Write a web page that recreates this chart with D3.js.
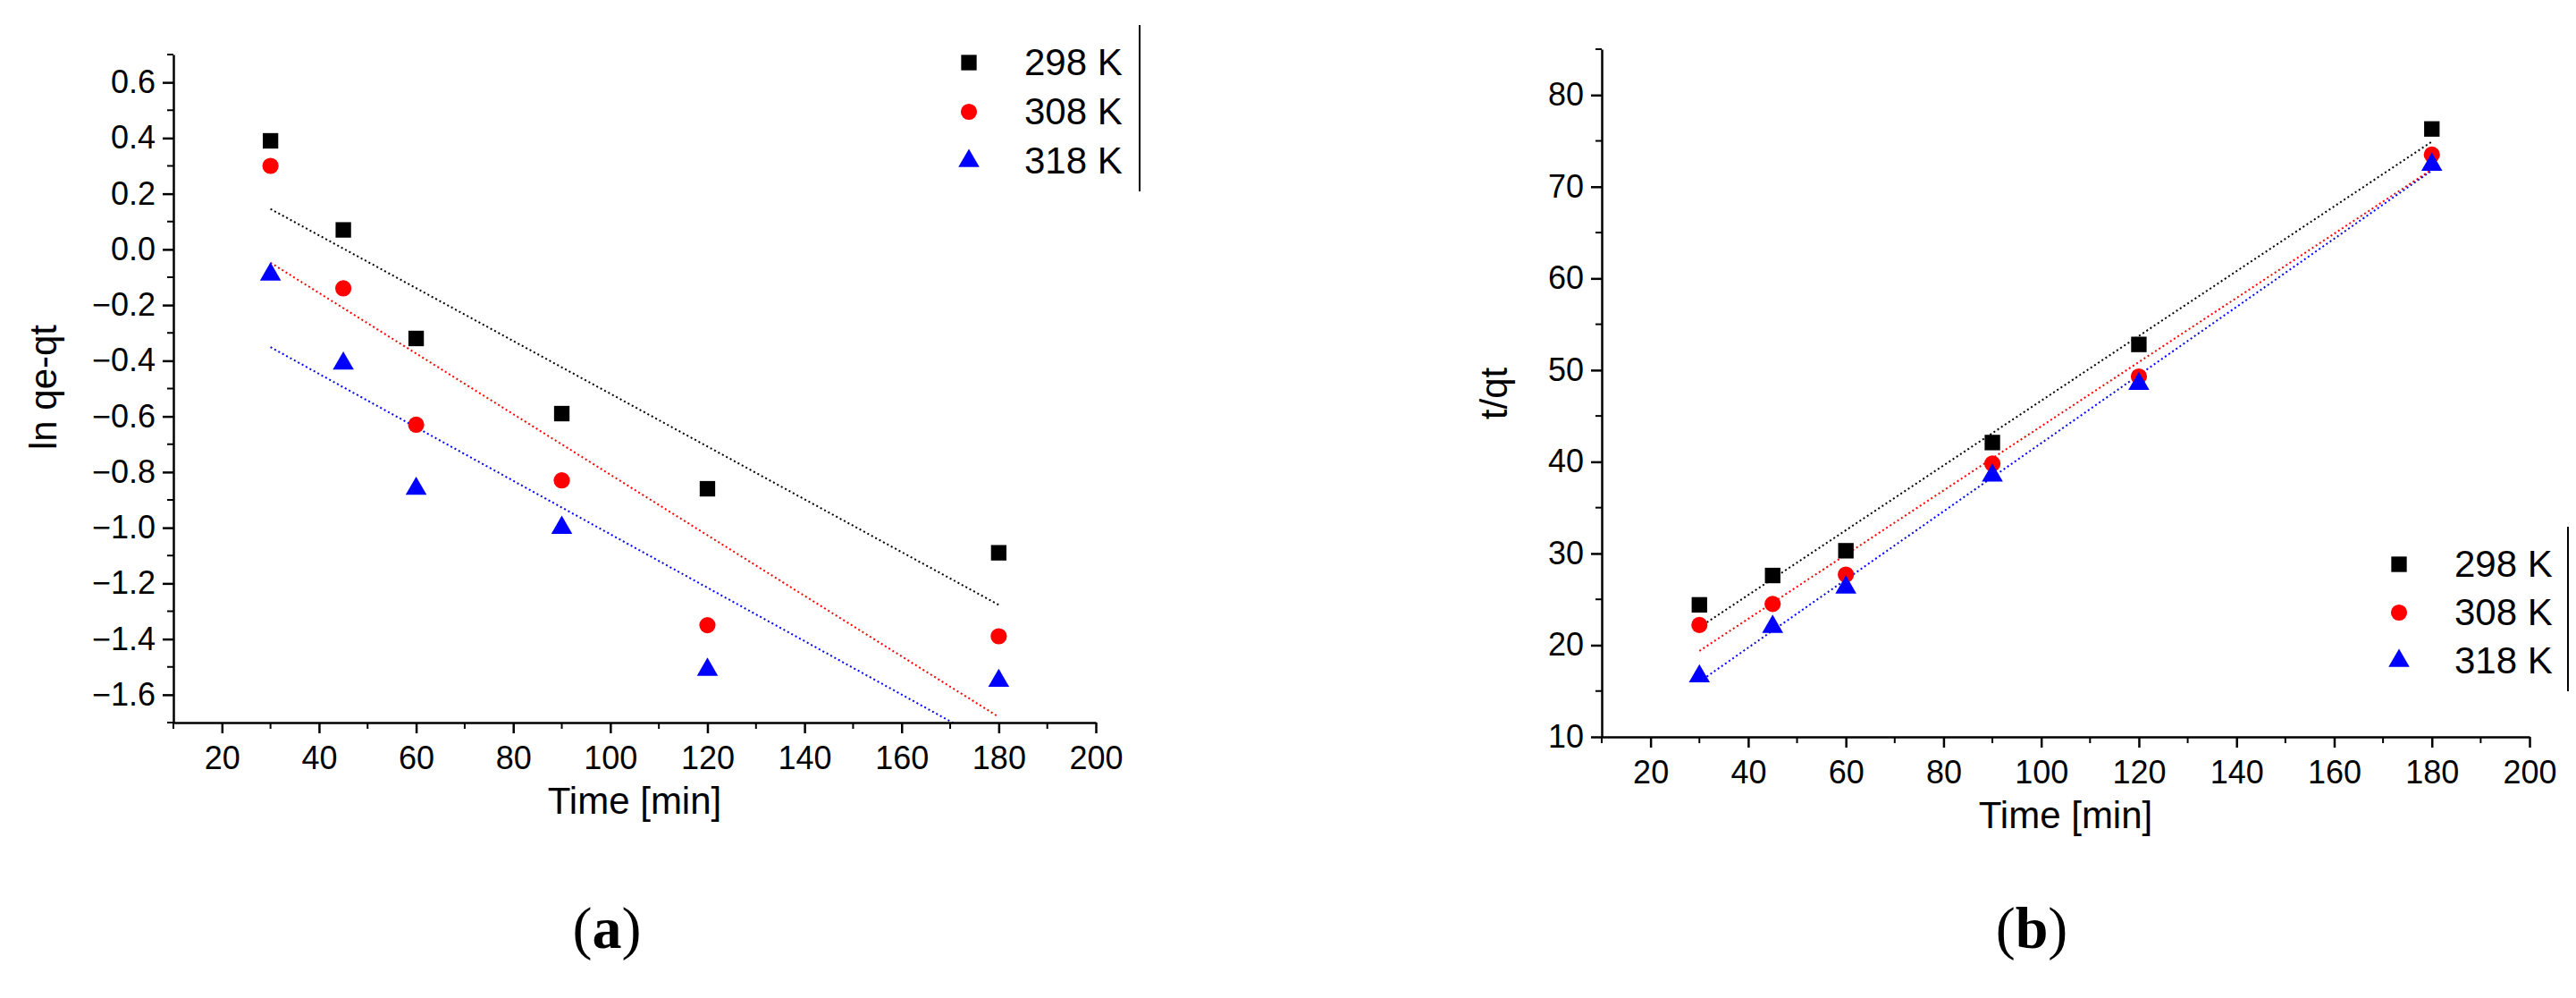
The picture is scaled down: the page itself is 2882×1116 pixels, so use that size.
<!DOCTYPE html><html><head><meta charset="utf-8">
<script src="https://cdn.jsdelivr.net/npm/d3@7"></script>
<style>body{margin:0;background:#fff}svg{display:block}</style></head><body>
<svg id="c" width="2882" height="1116"></svg>
<script>
const times=[30,45,60,90,120,180];
const seriesNames=["298 K","308 K","318 K"];
const colors=["#000000","#ff0000","#0000ff"];
const lnA298=[0.39,0.07,-0.32,-0.59,-0.86,-1.09];
const lnA308=[0.30,-0.14,-0.63,-0.83,-1.35,-1.39];
const lnA318=[-0.09,-0.41,-0.86,-1.00,-1.51,-1.55];
const tq298=[24.4,27.6,30.3,42.1,52.8,76.3];
const tq308=[22.2,24.5,27.7,39.8,49.3,73.5];
const tq318=[16.6,22.0,26.3,38.5,48.5,72.4];
const xTicks=[20,40,60,80,100,120,140,160,180,200];
const yTicksA=[0.6,0.4,0.2,0.0,-0.2,-0.4,-0.6,-0.8,-1.0,-1.2,-1.4,-1.6];
const yTicksB=[10,20,30,40,50,60,70,80];

const svg=d3.select("#c");
const F="'Liberation Sans',Arial,sans-serif";
function fit(xs,ys){const n=xs.length,mx=d3.mean(xs),my=d3.mean(ys);
 let sxy=0,sxx=0;xs.forEach((x,i)=>{sxy+=(x-mx)*(ys[i]-my);sxx+=(x-mx)**2});
 const b=sxy/sxx;return x=>my+b*(x-mx);}
function panel(o){
 const g=svg.append("g");
 const x=d3.scaleLinear().domain([10,200]).range([o.x0,o.x1]);
 const y=d3.scaleLinear().domain(o.yd).range([o.y1,o.y0]);
 const id="clip"+o.name;
 svg.append("clipPath").attr("id",id).append("rect").attr("x",o.x0).attr("y",o.y0).attr("width",o.x1-o.x0).attr("height",o.y1-o.y0);
 // fit lines
 o.data.forEach((ys,i)=>{const f=fit(times,ys);
  g.append("line").attr("clip-path",`url(#${id})`).attr("x1",x(30)).attr("y1",y(f(30))).attr("x2",x(180)).attr("y2",y(f(180)))
   .attr("stroke",colors[i]).attr("stroke-width",2).attr("stroke-dasharray","2,3");});
 // markers
 const sym=[d3.symbolSquare,d3.symbolCircle,d3.symbolTriangle];
 const sz=[300,260,240];
 o.data.forEach((ys,i)=>{g.selectAll(null).data(ys).join("path")
   .attr("d",d3.symbol().type(sym[i]).size(sz[i]))
   .attr("transform",(d,j)=>`translate(${x(times[j])},${y(d)})`).attr("fill",colors[i]);});
 // axes
 const xa=g.append("g").attr("transform",`translate(0,${o.y1})`)
  .call(d3.axisBottom(x).tickValues(xTicks).tickSize(12).tickSizeOuter(0).tickPadding(14));
 xa.append("g").selectAll("line").data(d3.range(10,201,10).filter(v=>v%20)).join("line")
  .attr("x1",d=>x(d)).attr("x2",d=>x(d)).attr("y1",0).attr("y2",7).attr("stroke","#000").attr("stroke-width",2);
 const ya=g.append("g").attr("transform",`translate(${o.x0},0)`)
  .call(d3.axisLeft(y).tickValues(o.yt).tickSize(12).tickSizeOuter(0).tickPadding(8).tickFormat(o.fmt));
 ya.append("g").selectAll("line").data(o.minor).join("line")
  .attr("y1",d=>y(d)).attr("y2",d=>y(d)).attr("x1",0).attr("x2",-7).attr("stroke","#000").attr("stroke-width",2);
 [xa,ya].forEach(a=>{a.selectAll("text").attr("font-family",F).attr("font-size",36).attr("fill","#000");
  a.select(".domain").attr("stroke-width",2.5);a.selectAll(".tick line").attr("stroke-width",2.5);});
 g.append("text").attr("x",(o.x0+o.x1)/2).attr("y",o.y1+102).attr("text-anchor","middle")
  .attr("font-family",F).attr("font-size",42).text("Time [min]");
 g.append("text").attr("transform",`translate(${o.ylx},${o.yly}) rotate(-90)`).attr("text-anchor","middle")
  .attr("font-family",F).attr("font-size",42).text(o.ylab);
 // legend
 seriesNames.forEach((s,i)=>{const ly=o.ly+i*o.ldy;
  g.append("path").attr("d",d3.symbol().type(sym[i]).size(sz[i])).attr("transform",`translate(${o.lx},${ly})`).attr("fill",colors[i]);
  g.append("text").attr("x",o.lx+62).attr("y",ly+14).attr("font-family",F).attr("font-size",42).text(s);});
 g.append("line").attr("x1",o.lb).attr("x2",o.lb).attr("y1",o.ly-42).attr("y2",o.ly+2*o.ldy+34).attr("stroke","#000").attr("stroke-width",2);
 g.append("text").attr("x",o.cap).attr("y",1060).attr("text-anchor","middle").attr("font-family","'Liberation Serif',serif")
  .attr("font-size",66).html(`(<tspan font-weight="bold">${o.name}</tspan>)`);
}
panel({name:"a",x0:194,x1:1226,y0:61,y1:808,yd:[-1.7,0.7],yt:yTicksA,fmt:d3.format(".1f"),
 minor:d3.range(-1.7,0.71,0.2).map(v=>+v.toFixed(1)),data:[lnA298,lnA308,lnA318],
 ylab:"ln qe-qt",ylx:63,yly:433,lx:1084,ly:70,ldy:55,lb:1275,cap:679});
panel({name:"b",x0:1792,x1:2830,y0:55,y1:824,yd:[10,85],yt:yTicksB,fmt:d3.format("d"),
 minor:d3.range(15,86,10),data:[tq298,tq308,tq318],
 ylab:"t/qt",ylx:1686,yly:440,lx:2684,ly:631,ldy:54,lb:2873,cap:2273});
</script></body></html>
